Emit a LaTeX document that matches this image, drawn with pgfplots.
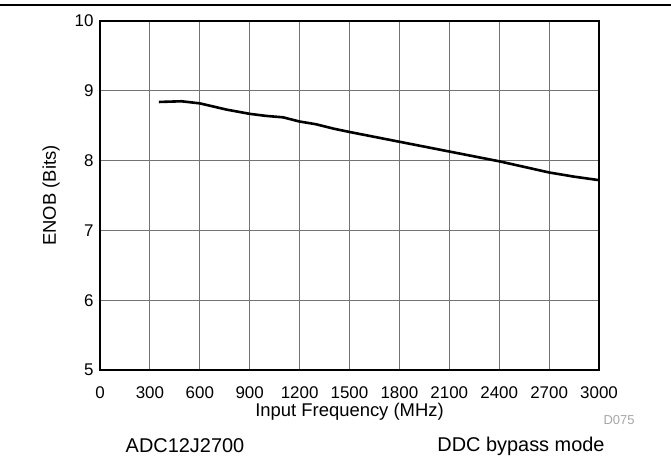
\documentclass[border=0pt]{standalone}
\usepackage{fontspec}
\setmainfont{Liberation Sans}
\usepackage{pgfplots}
\pgfplotsset{compat=1.18}

\begin{document}
\begin{tikzpicture}
	% page = 671 x 464 bp, axis box from (100,94) to (599,443)
	\path[use as bounding box] (0,0) rectangle (671bp,464bp);
	\draw[line width=1.5bp] (0,459bp) -- (671bp,459bp);
	\begin{axis}[
	at={(100bp,94bp)},
	anchor=south west,
	width=499bp,
	height=349bp,
	scale only axis,
	xmin=0, xmax=3000,
	ymin=5, ymax=10,
	xtick={0,300,...,3000},
	ytick={5,6,...,10},
	grid=major,
	major grid style={black!55, line width=0.9bp},
	axis line style={line width=2bp},
	tick style={draw=none},
	/pgf/number format/assume math mode=true,
	/pgf/number format/1000 sep={},
	tick label style={font=\fontsize{17}{18}\selectfont},
	xticklabel style={anchor=center, yshift=-23bp},
	yticklabel style={xshift=-3bp},
	label style={font=\fontsize{18.5}{20}\selectfont},
	xlabel={Input Frequency (MHz)},
	ylabel={ENOB (Bits)},
	xlabel style={at={(axis description cs:0.5,0)}, anchor=center, yshift=-42bp},
	ylabel style={yshift=8bp},
	clip=false]
		
	\addplot[black, line width=2.6bp] coordinates {
		(354,8.84) (490,8.85) (600,8.82) (762,8.73) (900,8.67)
		(1000,8.64) (1100,8.62) (1200,8.56) (1300,8.52) (1400,8.46)
		(1500,8.41) (1650,8.34) (1800,8.27) (1950,8.20) (2100,8.13)
		(2250,8.06) (2400,7.99) (2550,7.91) (2700,7.83) (2850,7.77)
		(3000,7.72)
	};
	\end{axis}
	\node[text=gray!70, font=\fontsize{13}{14}\selectfont] at (619bp,44bp) {D075};
	\node[font=\fontsize{20}{22}\selectfont] at (185bp,18bp) {ADC12J2700};
	\node[font=\fontsize{20}{22}\selectfont] at (521bp,18bp) {DDC bypass mode};
\end{tikzpicture}
\end{document}
